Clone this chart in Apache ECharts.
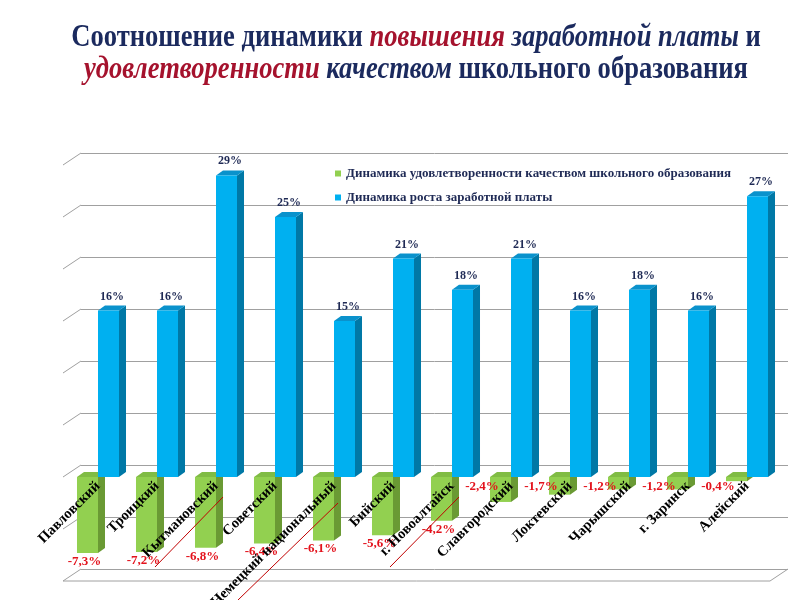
<!DOCTYPE html>
<html>
<head>
<meta charset="utf-8">
<script src="https://cdn.jsdelivr.net/npm/echarts@6/dist/echarts.min.js"></script>
<style>html,body{margin:0;padding:0;background:#fff;}#main{width:800px;height:600px;}</style>
</head>
<body>
<div id="main"></div>
<script>
const categories = ['Павловский','Троицкий','Кытмановский','Советский','Немецкий национальный','Бийский','г. Новоалтайск','Славгородский','Локтевский','Чарышский','г. Заринск','Алейский'];
const satisfaction = [-7.3,-7.2,-6.8,-6.4,-6.1,-5.6,-4.2,-2.4,-1.7,-1.2,-1.2,-0.4];
const salary = [16,16,29,25,15,21,18,21,16,18,16,27];
const yTicks = [-10,-5,0,5,10,15,20,25,30];
const seriesNames = ['Динамика удовлетворенности качеством школьного образования','Динамика роста заработной платы'];

const SERIF = '"Liberation Serif","Times New Roman",serif';
const NAVY = '#1F2A55';
const palette = [
  {front:'#92D050', side:'#6A9A34', top:'#80BC44'},
  {front:'#00B0F0', side:'#0078A6', top:'#0A92CC'}
];
const DX = 7, DY = 5;

function barRenderer(s){
  return function(params, api){
    const i = api.value(0), v = api.value(1);
    const band = api.size([1,0])[0];
    const w = band*0.356;
    const center = api.coord([i,0])[0];
    const x0 = s===0 ? center - w : center;
    const base = api.coord([i,0])[1];
    const end = api.coord([i,v])[1];
    const y1 = Math.min(base,end), y2 = Math.max(base,end);
    const c = palette[s];
    const children = [
      {type:'polygon', shape:{points:[[x0+w,y1],[x0+w+DX,y1-DY],[x0+w+DX,y2-DY],[x0+w,y2]]}, style:{fill:c.side}},
      {type:'polygon', shape:{points:[[x0,y1],[x0+DX,y1-DY],[x0+w+DX,y1-DY],[x0+w,y1]]}, style:{fill:c.top}},
      {type:'rect', shape:{x:x0,y:y1,width:w,height:y2-y1}, style:{fill:c.front}}
    ];
    if (s===1){
      children.push({type:'text', style:{text:v+'%', x:x0+(w+DX)/2, y:y1-DY-3, align:'center', verticalAlign:'bottom', fill:NAVY, font:'bold 12px '+SERIF}});
    } else {
      const txt = v.toFixed(1).replace('.',',')+'%';
      const small = (y2 - y1) < 30;
      children.push({type:'text', style:{
        text:txt,
        x: small ? x0 - 8 : x0 + w/2 - 3,
        y: small ? base + 10 : y2 + 2,
        align:'center', verticalAlign: small ? 'middle' : 'top',
        fill:'#E3121C', font:'bold 13px '+SERIF}});
    }
    return {type:'group', children};
  };
}

function frameRenderer(params, api){
  const cs = params.coordSys;
  const y = api.coord([0, api.value(0)])[1];
  const left = cs.x, right = cs.x + cs.width;
  const children = [
    {type:'line', shape:{x1:left,y1:y,x2:left-18,y2:y+12}, style:{stroke:'#A0A0A0',lineWidth:1}}
  ];
  if (api.value(0) === yTicks[0]){
    children.push({type:'line', shape:{x1:left-18,y1:y+12,x2:right-18,y2:y+12}, style:{stroke:'#A0A0A0',lineWidth:1}});
    children.push({type:'line', shape:{x1:right,y1:y,x2:right-18,y2:y+12}, style:{stroke:'#A0A0A0',lineWidth:1}});
  }
  return {type:'group', children};
}

const chart = echarts.init(document.getElementById('main'));
chart.setOption({
  backgroundColor:'#fff',
  animation:false,
  legend:{
    left:330, top:162, orient:'vertical', itemGap:11,
    icon:'rect', itemWidth:6, itemHeight:6,
    textStyle:{fontFamily:SERIF,fontWeight:'bold',fontSize:13,color:NAVY},
    data:seriesNames
  },
  grid:[
    {left:68.5, right:23.5, top:165, bottom:19, outerBoundsMode:'none', containLabel:false},
    {left:81, right:12, top:153, bottom:31, outerBoundsMode:'none', containLabel:false},
    {left:68.5, right:23.5, top:165, bottom:123, outerBoundsMode:'none', containLabel:false}
  ],
  xAxis:[
    {type:'category', gridIndex:0, data:categories, show:false},
    {type:'value', gridIndex:1, show:false, min:0, max:1},
    {type:'category', gridIndex:2, data:categories, position:'bottom', z:10,
     axisLine:{show:false}, axisTick:{show:false},
     axisLabel:{rotate:45, margin:7, interval:0, fontFamily:SERIF, fontWeight:'bold', fontSize:14.5, color:'#000'}}
  ],
  yAxis:[
    {type:'value', gridIndex:0, min:-10, max:30, interval:5, show:false},
    {type:'value', gridIndex:1, min:-10, max:30, interval:5,
     axisLine:{show:false}, axisTick:{show:false}, axisLabel:{show:false},
     splitLine:{show:true, lineStyle:{color:'#A0A0A0', width:1}}},
    {type:'value', gridIndex:2, min:0, max:30, show:false}
  ],
  series:[
    {type:'custom', name:'frame', xAxisIndex:1, yAxisIndex:1, renderItem:frameRenderer, data:yTicks.map(t=>[t]), encode:{y:0}, silent:true, z:1},
    {type:'custom', name:seriesNames[0], xAxisIndex:0, yAxisIndex:0, itemStyle:{color:palette[0].front},
     renderItem:barRenderer(0), data:satisfaction.map((v,i)=>[i,v]), z:2},
    {type:'custom', name:seriesNames[1], xAxisIndex:0, yAxisIndex:0, itemStyle:{color:palette[1].front},
     renderItem:barRenderer(1), data:salary.map((v,i)=>[i,v]), z:3}
  ],
  graphic:[
    {type:'text', x:416, y:22, scaleX:0.83, z:20,
     style:{
       text:'{n|Соотношение динамики }{r|повышения}{i| заработной платы}{n| и}\n{r|удовлетворенности}{i| качеством}{n| школьного образования}',
       align:'center', verticalAlign:'top',
       rich:{
         n:{fontFamily:SERIF,fontSize:32,fontWeight:'bold',fill:'#1B2A5E',lineHeight:32},
         r:{fontFamily:SERIF,fontSize:32,fontWeight:'bold',fontStyle:'italic',fill:'#A5122D',lineHeight:32},
         i:{fontFamily:SERIF,fontSize:32,fontWeight:'bold',fontStyle:'italic',fill:'#1B2A5E',lineHeight:32}
       }
     }},
    {type:'line', shape:{x1:155,y1:567,x2:223,y2:497}, style:{stroke:'#C00000',lineWidth:1}, z:10},
    {type:'line', shape:{x1:238,y1:600,x2:338,y2:503}, style:{stroke:'#C00000',lineWidth:1}, z:10},
    {type:'line', shape:{x1:390,y1:567,x2:459,y2:497}, style:{stroke:'#C00000',lineWidth:1}, z:10}
  ]
});
</script>
</body>
</html>
